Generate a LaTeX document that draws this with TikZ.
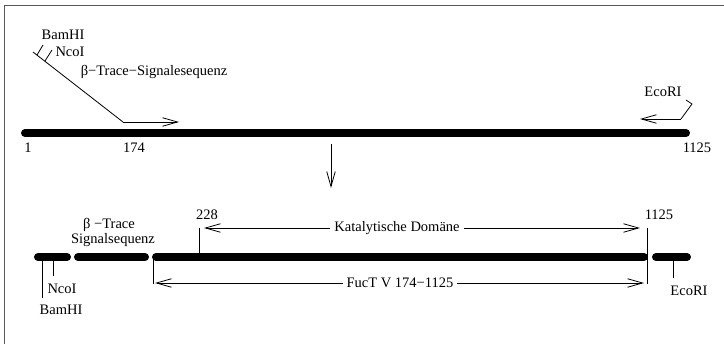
\documentclass[tikz,border=0pt]{standalone}
\usepackage{fontspec}
\setmainfont{Liberation Serif}
\usetikzlibrary{arrows.meta}
\begin{document}
\begin{tikzpicture}[x=1pt,y=-1pt,
  lbl/.style={inner sep=0.5pt,font=\fontsize{14.5}{17}\selectfont},
  wlbl/.style={lbl,fill=white,inner xsep=4pt},
  bar/.style={line width=8pt,line cap=round},
  thin/.style={line width=0.8pt},
  arr/.style={thin,-{Straight Barb[length=15pt,width=8.5pt]}}]
\useasboundingbox (0,0) rectangle (724,344);
\draw[line width=1pt,black!65] (4,344) -- (4,6) -- (724,6);
% top section
\coordinate (b1) at (25,133);
\coordinate (b2) at (686,133);
\draw[bar] (b1) -- (b2);
\node[lbl] (n1) at (28,148) {1};
\node[lbl] (n174) at (134,148) {174};
\node[lbl] (n1125a) at (697,148) {1125};
\coordinate (s0) at (33,52);
\coordinate (s1) at (123,122);
\coordinate (s2) at (179,122);
\draw[thin] (s0) -- (s1);
\draw[arr] (s1) -- (s2);
\coordinate (tb1) at (37,55); \coordinate (tb2) at (43,45);
\coordinate (tn1) at (45,61); \coordinate (tn2) at (52,50);
\draw[thin] (tb1) -- (tb2);
\draw[thin] (tn1) -- (tn2);
\node[lbl] (bam) at (63,35) {BamHI};
\node[lbl] (nco) at (70,52) {NcoI};
\node[lbl] (sig) at (154,72) {β−Trace−Signalesequenz};
\coordinate (e0) at (686,100);
\coordinate (e1) at (692,104);
\coordinate (e2) at (681,119);
\coordinate (e3) at (640,119);
\draw[thin] (e0) -- (e1) -- (e2);
\draw[arr] (e2) -- (e3);
\node[lbl] (eco) at (663,92) {EcoRI};
\coordinate (d0) at (331,144);
\coordinate (d1) at (331,188);
\draw[arr] (d0) -- (d1);
% bottom section
\coordinate (p1) at (38,257); \coordinate (p2) at (67,257);
\coordinate (p3) at (78,257); \coordinate (p4) at (145,257);
\coordinate (p5) at (156,257); \coordinate (p6) at (644,257);
\coordinate (p7) at (656,257); \coordinate (p8) at (687,257);
\draw[bar] (p1) -- (p2);
\draw[bar] (p3) -- (p4);
\draw[bar] (p5) -- (p6);
\draw[bar] (p7) -- (p8);
\coordinate (tB0) at (42,257); \coordinate (tB1) at (42,298);
\coordinate (tN0) at (53,257); \coordinate (tN1) at (53,276);
\draw[thin] (tB0) -- (tB1);
\draw[thin] (tN0) -- (tN1);
\node[lbl] (nco2) at (62,289) {NcoI};
\node[lbl] (bam2) at (61,310) {BamHI};
\node[lbl] (btr) at (109,225) {β −Trace};
\node[lbl] (sgs) at (113,240) {Signalsequenz};
\coordinate (f0) at (153,257); \coordinate (f1) at (153,284);
\draw[thin] (f0) -- (f1);
\coordinate (k0) at (199,228); \coordinate (k1) at (199,257);
\draw[thin] (k0) -- (k1);
\node[lbl] (n228) at (207,215) {228};
\coordinate (m0) at (647,228); \coordinate (m1) at (647,284);
\draw[thin] (m0) -- (m1);
\node[lbl] (n1125b) at (659,215) {1125};
\coordinate (r0) at (673,257); \coordinate (r1) at (673,278);
\draw[thin] (r0) -- (r1);
\node[lbl] (eco2) at (689,291) {EcoRI};
% arrows with labels
\coordinate (kat) at (397,228);
\coordinate (kl) at (204,228); \coordinate (kr) at (640,228);
\draw[arr] (kat) -- (kl);
\draw[arr] (kat) -- (kr);
\node[wlbl] (katl) at (kat) {Katalytische Domäne};
\coordinate (fuc) at (400,283);
\coordinate (fl) at (155,283); \coordinate (fr) at (644,283);
\draw[arr] (fuc) -- (fl);
\draw[arr] (fuc) -- (fr);
\node[wlbl] (fucl) at (fuc) {FucT V 174−1125};
\end{tikzpicture}
\end{document}
